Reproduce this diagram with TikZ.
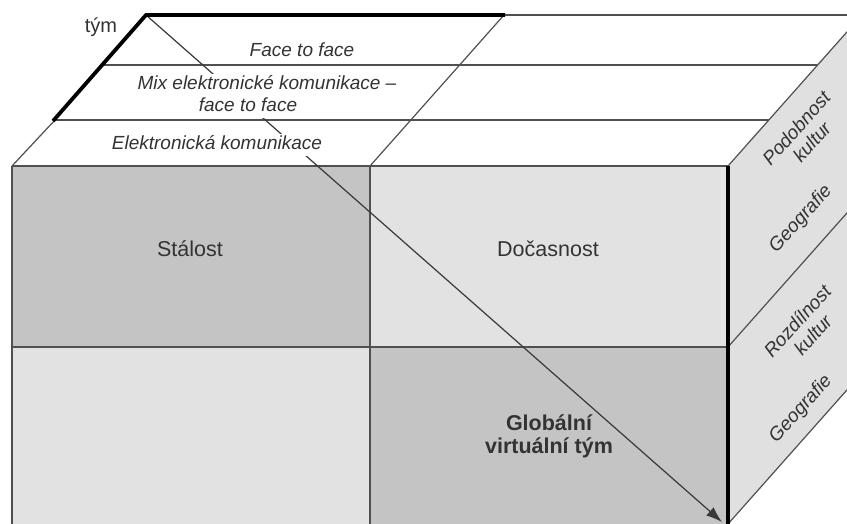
\documentclass[tikz,border=0pt]{standalone}
\usepackage{fontspec}
\setmainfont{Liberation Sans}
\usetikzlibrary{arrows.meta}
\definecolor{darkcell}{HTML}{C4C4C4}
\definecolor{lightcell}{HTML}{E2E2E2}
\definecolor{sidecell}{HTML}{E0E0E0}
\definecolor{linegray}{HTML}{505050}
\definecolor{arrowgray}{HTML}{383838}
\definecolor{txt}{HTML}{333333}
\begin{document}
\begin{tikzpicture}[x=1pt,y=-1pt,
  gridline/.style={draw=linegray, line width=1.2pt},
  thickedge/.style={draw=black, line width=3.8pt},
  toplabel/.style={font=\fontsize{19}{22}\selectfont\itshape, text=txt, fill=white, inner sep=2pt, text depth=4pt, anchor=base},
  frontlabel/.style={font=\fontsize{21.5}{24}\selectfont, text=txt, anchor=base},
  boldlabel/.style={font=\fontsize{21.5}{24}\selectfont\bfseries, text=txt, anchor=base},
  sidelabel/.style={font=\fontsize{19}{21}\selectfont\itshape, text=txt, align=center, rotate=48},
  arrowline/.style={draw=arrowgray, line width=1.2pt, -{Latex[length=16pt,width=11pt]}}
]
\useasboundingbox (0,0) rectangle (847,524);
\fill[white] (0,0) rectangle (847,524);
\begin{scope}
\clip (0,0) rectangle (847,524);
% front face cells
\fill[darkcell] (12,166) rectangle (370,347);
\fill[lightcell] (370,166) rectangle (728,347);
\fill[lightcell] (12,347) rectangle (370,530);
\fill[darkcell] (370,347) rectangle (728,530);
% right face
\fill[sidecell] (728,166) -- (862,15) -- (862,373) -- (728,524) -- cycle;
% grid lines
\draw[gridline] (12,166) -- (12,530);
\draw[gridline] (370,166) -- (370,530);
\draw[gridline] (12,347) -- (728,347);
\draw[gridline] (12,166) -- (728,166);
\draw[gridline] (12,166) -- (55,120);
\draw[gridline] (370,166) -- (504,15);
\draw[gridline] (505,15) -- (862,15);
\draw[gridline] (101,65) -- (817,65);
\draw[gridline] (53,120) -- (769,120);
\draw[gridline] (728,166) -- (862,15);
\draw[gridline] (728,347) -- (862,196);
\draw[gridline] (728,524) -- (862,373);
% arrow
\coordinate (acorner) at (146,15);
\coordinate (aend) at (722,522);
\draw[arrowline] (acorner) -- (aend);
% thick edges
\draw[thickedge] (728,166) -- (728,530);
\draw[thickedge] (53,121) -- (acorner) -- (505,15);
% top face labels
\node[toplabel] (ftf) at (302,57) {Face to face};
\node[toplabel] (mixa) at (267,90) {Mix elektronické komunikace –};
\node[toplabel] (mixb) at (248,112) {face to face};
\node[toplabel] (ek) at (217,150) {Elektronická komunikace};
\node[font=\fontsize{20}{24}\selectfont, text=txt, anchor=base] (tym) at (101,33) {tým};
% front labels
\node[frontlabel] (stal) at (190,257) {Stálost};
\node[frontlabel] (doc) at (548,257) {Dočasnost};
\node[boldlabel] (glob) at (549,430) {Globální};
\node[boldlabel] (virt) at (549,453) {virtuální tým};
% side labels
\node[sidelabel] (pk) at (804,135) {Podobnost\\kultur};
\node[sidelabel] (ga) at (801,219) {Geografie};
\node[sidelabel] (rk) at (805,328) {Rozdílnost\\kultur};
\node[sidelabel] (gb) at (801,409) {Geografie};
\end{scope}
\end{tikzpicture}
\end{document}
